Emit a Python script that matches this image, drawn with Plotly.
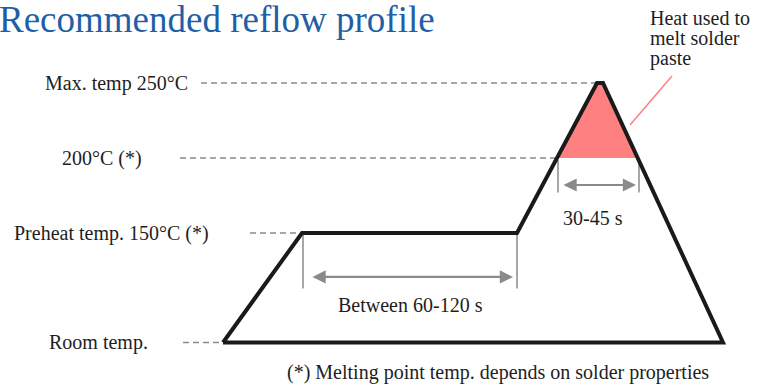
import plotly.graph_objects as go

# schematic profile: time in seconds, temperature in °C (room temp drawn schematically)
ROOM = 77
profile_time = [0, 39.5, 147, 187, 190, 250, 0]
profile_temp = [ROOM, 150, 150, 250, 250, ROOM, ROOM]

melt_time = [167, 187, 190, 207.5, 167]
melt_temp = [200, 250, 250, 200, 200]

# dashed guide lines: (start time, end time, temperature)
guide_start = [-11, -21.5, 13.5, -20]
guide_end = [187, 167, 39.5, 0]
guide_temp = [250, 200, 150, ROOM]

level_labels = ["Max. temp 250°C", "200°C (*)", "Preheat temp. 150°C (*)", "Room temp."]
level_label_end = [-16.5, -39.5, -6, -36.5]

heat_lines = ["Heat used to", "melt solder", "paste"]
heat_line_y = [293.3, 280.3, 266.3]

preheat_span = [40, 147]
peak_span = [167.5, 208]

FONT = "Liberation Serif"
GRAY = "#8a8a8a"
TXT = "#1e1e1e"

fig = go.Figure()

for x0, x1, y in zip(guide_start, guide_end, guide_temp):
    fig.add_trace(go.Scatter(x=[x0, x1], y=[y, y], mode="lines",
                             line=dict(color=GRAY, width=1.5, dash="6px,4px")))

fig.add_trace(go.Scatter(x=melt_time, y=melt_temp, mode="lines", fill="toself",
                         fillcolor="#ff8080", line=dict(width=0)))

# pointer from the label to the pink area
fig.add_trace(go.Scatter(x=[203.5, 224.5], y=[222, 254.7], mode="lines",
                         line=dict(color="#ff8080", width=1.5)))

# span markers
for t in preheat_span:
    fig.add_trace(go.Scatter(x=[t, t], y=[149, 113], mode="lines",
                             line=dict(color=GRAY, width=1.5)))
for t in peak_span:
    fig.add_trace(go.Scatter(x=[t, t], y=[198.7, 177], mode="lines",
                             line=dict(color=GRAY, width=1.5)))

fig.add_trace(go.Scatter(x=profile_time, y=profile_temp, mode="lines",
                         line=dict(color="#1a1a1a", width=4)))

arrows = [(preheat_span[0] + 4, preheat_span[1] - 2, 120.7),
          (peak_span[0] + 2, peak_span[1] - 1.5, 182)]
for x0, x1, y in arrows:
    fig.add_annotation(x=x1, y=y, ax=x0, ay=y, xref="x", yref="y", axref="x", ayref="y",
                       text="", showarrow=True, arrowhead=2, arrowside="end+start",
                       arrowsize=1.2, arrowwidth=2.2, arrowcolor=GRAY)

for label, x, y in zip(level_labels, level_label_end, guide_temp):
    fig.add_annotation(x=x, y=y, text=label, showarrow=False, xanchor="right",
                       font=dict(family=FONT, size=20, color=TXT))

for label, y in zip(heat_lines, heat_line_y):
    fig.add_annotation(x=212.5, y=y, text=label, showarrow=False, xanchor="left",
                       font=dict(family=FONT, size=20, color=TXT))

fig.add_annotation(x=93.5, y=102, text="Between 60-120 s", showarrow=False,
                   font=dict(family=FONT, size=20, color=TXT))
fig.add_annotation(x=185, y=160, text="30-45 s", showarrow=False,
                   font=dict(family=FONT, size=20, color=TXT))
fig.add_annotation(x=137.5, y=57.3, text="(*) Melting point temp. depends on solder properties",
                   showarrow=False, font=dict(family=FONT, size=20, color=TXT))

fig.add_annotation(x=-0.004, y=1.008, xref="paper", yref="paper", text="Recommended reflow profile",
                   showarrow=False, xanchor="left", yanchor="top",
                   font=dict(family=FONT, size=37, color="#1f5fa6"))

fig.update_xaxes(range=[-111.5, 267.5], visible=False)
fig.update_yaxes(range=[47.33, 305.33], visible=False)
fig.update_layout(width=758, height=387, margin=dict(l=0, r=0, t=0, b=0),
                  showlegend=False, plot_bgcolor="white", paper_bgcolor="white")

fig.write_html("out.html", config={"displayModeBar": False},
               post_script="document.body.style.margin='0';")
